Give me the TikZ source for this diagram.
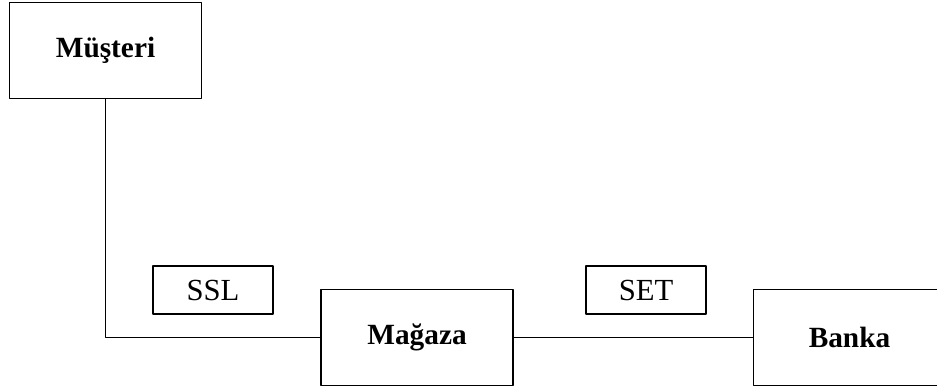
\documentclass[tikz,border=0pt]{standalone}
\usepackage{fontspec}
\setmainfont{Liberation Serif}
\begin{document}
\begin{tikzpicture}[line cap=round, line join=round, x=0.75pt, y=-0.75pt, line width=1.1pt,
                bigbox/.style={draw, font=\fontsize{22}{26}\selectfont\bfseries, minimum width=144pt, minimum height=72pt, inner sep=0pt},
                tagbox/.style={draw, font=\fontsize{23}{27}\selectfont, minimum width=90pt, minimum height=36pt, inner sep=0pt}]

                \clip (0,0) rectangle (937,389);

                \node[bigbox] (musteri) at (105.5, 50.5) {Müşteri};
                \node[bigbox] (magaza) at (417, 337.5) {Mağaza};
                \node[bigbox] (banka) at (849.5, 337.5) {Banka};

                \node[tagbox] (ssl) at (213, 290) {SSL};
                \node[tagbox] (set) at (646, 290) {SET};

                \draw (musteri.south) |- (magaza.west);
                \draw (magaza.east) -- (banka.west);

            \end{tikzpicture}
\end{document}
